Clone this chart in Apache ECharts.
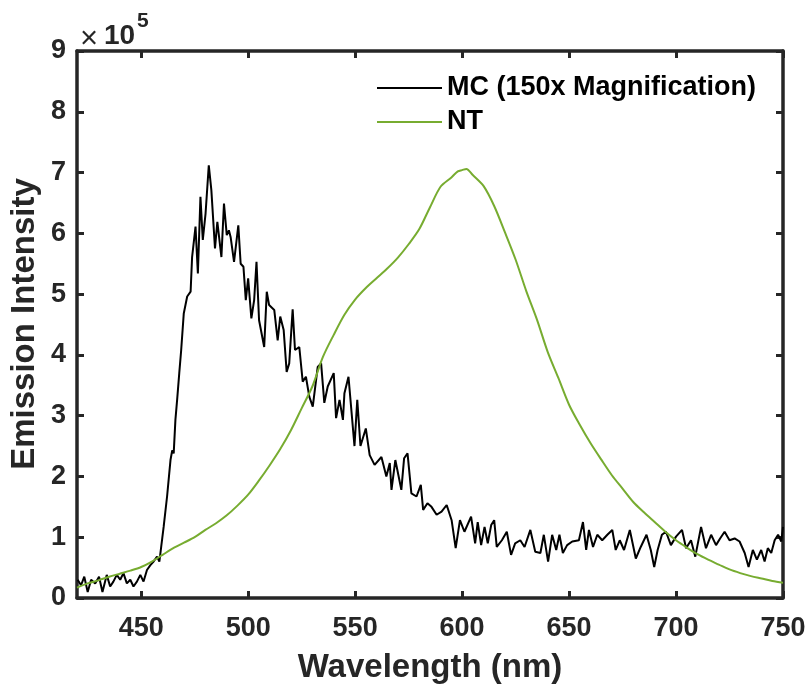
<!DOCTYPE html>
<html>
<head>
<meta charset="utf-8">
<script src="https://cdn.jsdelivr.net/npm/echarts@6/dist/echarts.min.js"></script>
<style>
html,body{margin:0;padding:0;background:#fff;}
#chart{width:812px;height:684px;}
</style>
</head>
<body>
<div id="chart"></div>
<script>
// Emission intensity values are in units of 1e5
const mcWavelength = [420.3,421.9,423.4,425.0,426.6,428.5,430.3,431.9,433.9,435.5,437.0,438.6,440.2,441.7,443.3,444.9,446.4,448.0,449.6,451.1,452.7,454.3,455.8,457.4,458.5,460.5,462.1,463.7,464.5,465.2,466.0,466.8,467.8,468.7,469.9,471.5,473.1,473.8,475.4,476.5,477.7,478.8,480.1,481.6,482.8,483.7,484.5,485.6,486.3,487.5,488.7,490.0,491.0,491.8,493.4,495.4,496.5,497.8,498.9,500.0,501.5,502.8,503.9,505.1,505.9,507.5,508.7,509.8,512.2,513.8,515.0,516.6,518.0,519.2,520.8,521.9,523.9,525.5,527.0,528.6,530.2,532.5,534.1,535.6,537.2,540.0,541.1,542.7,544.3,545.0,546.9,549.7,551.0,552.5,555.0,556.8,559.1,562.3,564.6,566.2,567.0,568.8,571.6,572.9,574.5,576.3,578.7,580.7,581.8,583.8,585.7,588.1,590.4,592.8,595.1,597.0,599.0,601.1,604.2,606.1,607.3,608.9,610.5,612.0,613.6,615.0,616.2,618.6,620.9,622.9,624.8,627.2,629.2,631.9,634.2,636.6,638.2,640.2,642.1,644.0,645.5,647.1,649.1,651.5,654.6,656.5,658.0,659.3,661.2,663.2,665.5,667.9,670.2,671.8,673.7,675.7,678.4,681.2,683.5,686.2,688.2,689.8,691.4,693.4,695.3,697.6,700.0,702.8,704.7,707.0,709.0,711.7,714.0,716.4,718.7,720.6,722.7,725.0,727.4,729.7,732.1,733.9,735.9,737.8,739.8,741.4,742.9,744.5,746.1,747.7,749.2,750.0];
const mcIntensity = [0.30,0.21,0.35,0.10,0.30,0.24,0.35,0.10,0.38,0.19,0.27,0.38,0.30,0.41,0.24,0.30,0.19,0.27,0.38,0.27,0.46,0.54,0.60,0.68,0.60,1.17,1.67,2.27,2.43,2.38,2.93,3.26,3.70,4.08,4.68,4.96,5.04,5.61,6.11,5.34,6.60,5.89,6.33,7.12,6.71,6.71,5.75,6.19,6.16,5.61,6.49,5.97,6.05,5.94,5.53,6.13,5.50,5.45,4.90,5.26,4.60,4.90,5.53,4.57,4.54,4.13,5.04,4.82,4.74,4.24,4.63,4.41,3.72,3.86,4.75,4.08,4.13,3.56,3.64,3.31,3.15,3.80,3.86,3.21,3.48,3.70,2.96,3.26,2.93,3.37,3.64,2.50,3.26,2.50,2.79,2.35,2.19,2.32,2.00,2.22,1.78,2.27,1.78,2.30,2.38,1.72,1.67,1.86,1.45,1.56,1.50,1.37,1.42,1.53,1.28,0.82,1.28,1.09,1.34,0.90,1.25,0.87,1.17,0.90,1.20,1.28,0.84,0.95,1.09,0.71,0.90,0.95,0.84,1.12,0.76,0.74,1.04,0.60,1.04,0.79,1.04,0.74,0.87,0.93,0.95,1.25,0.79,1.12,0.84,1.04,0.95,1.04,1.12,0.79,0.95,0.79,1.12,0.65,0.84,1.04,0.79,0.51,0.79,1.04,1.09,0.87,1.01,1.12,0.82,0.95,0.68,1.17,0.82,1.04,0.87,0.98,1.09,0.95,0.98,0.93,0.74,0.51,0.79,0.63,0.79,0.60,0.82,0.74,0.95,1.04,0.93,1.17];

const ntWavelength = [420,425,430,435,440,445,450,455,460,465,470,475,480,485,490,495,500,505,510,515,520,525,530,535,540,545,550,555,560,565,570,575,580,585,590,595,598,600,602,605,610,615,620,625,630,635,640,645,650,655,660,665,670,675,680,685,690,695,700,705,710,715,720,725,730,735,740,745,750];
const ntIntensity = [0.17,0.24,0.29,0.35,0.40,0.45,0.51,0.60,0.71,0.82,0.91,1.00,1.12,1.23,1.36,1.52,1.70,1.93,2.18,2.45,2.76,3.12,3.48,3.97,4.33,4.66,4.91,5.10,5.26,5.42,5.60,5.82,6.07,6.43,6.77,6.92,7.02,7.04,7.06,6.96,6.78,6.45,6.02,5.57,5.05,4.58,4.05,3.62,3.18,2.85,2.55,2.28,2.02,1.80,1.58,1.41,1.25,1.09,0.95,0.83,0.72,0.63,0.55,0.47,0.41,0.36,0.32,0.28,0.25];

const xTicks = [450,500,550,600,650,700,750];
const yTicks = [0,1,2,3,4,5,6,7,8,9];
const seriesNames = ['MC (150x Magnification)','NT'];
const xTitle = 'Wavelength (nm)';
const yTitle = 'Emission Intensity';

const axisColor = '#262626';
const fontFam = '"Liberation Sans", Arial, sans-serif';

const chart = echarts.init(document.getElementById('chart'), null, {renderer:'canvas'});

function xAxisDef(pos, showLabel){
  return {
    type:'value', position:pos, min:420, max:750,
    axisLine:{show:true, onZero:false, lineStyle:{color:axisColor, width:3.5}},
    axisTick:{show:true, inside:true, length:7, customValues:xTicks, lineStyle:{color:axisColor, width:3}},
    axisLabel:{show:showLabel, customValues:xTicks, margin:17, fontFamily:fontFam, fontWeight:'bold', fontSize:27, color:axisColor},
    splitLine:{show:false}
  };
}
function yAxisDef(pos, showLabel){
  return {
    type:'value', position:pos, min:0, max:9, interval:1,
    axisLine:{show:true, onZero:false, lineStyle:{color:axisColor, width:3.5}},
    axisTick:{show:true, inside:true, length:7, lineStyle:{color:axisColor, width:3}},
    axisLabel:{show:showLabel, margin:11, padding:[6,0,0,0], fontFamily:fontFam, fontWeight:'bold', fontSize:27, color:axisColor,
      formatter:function(v){ return yTicks.indexOf(v) >= 0 ? String(v) : ''; }},
    splitLine:{show:false}
  };
}

const option = {
  backgroundColor:'#ffffff',
  animation:false,
  grid:{left:77, right:29, top:51, bottom:86, containLabel:false},
  xAxis:[xAxisDef('bottom', true), xAxisDef('top', false)],
  yAxis:[yAxisDef('left', true), yAxisDef('right', false)],
  legend:{
    orient:'vertical', left:372, top:69, itemWidth:65, itemHeight:2, itemGap:6, icon:'rect',
    data:seriesNames,
    textStyle:{fontFamily:fontFam, fontWeight:'bold', fontSize:27, color:'#000', lineHeight:28}
  },
  graphic:[
    {type:'text', left:80, top:24, style:{text:'×', font:'normal 31px ' + fontFam, fill:axisColor}},
    {type:'text', left:104, top:22, style:{text:'10', font:'bold 28px ' + fontFam, fill:axisColor}},
    {type:'text', left:137, top:11, style:{text:'5', font:'bold 21px ' + fontFam, fill:axisColor}},
    {type:'text', x:430, y:668, style:{text:xTitle, font:'bold 33px ' + fontFam, fill:axisColor, textAlign:'center', textVerticalAlign:'middle'}},
    {type:'text', x:25, y:324, rotation:Math.PI/2, style:{text:yTitle, font:'bold 33px ' + fontFam, fill:axisColor, textAlign:'center', textVerticalAlign:'middle'}}
  ],
  series:[
    {
      name:seriesNames[0], type:'line', xAxisIndex:0, yAxisIndex:0, symbol:'none',
      lineStyle:{color:'#000000', width:2}, itemStyle:{color:'#000000'},
      data: mcWavelength.map((w,i)=>[w, mcIntensity[i]])
    },
    {
      name:seriesNames[1], type:'line', xAxisIndex:0, yAxisIndex:0, symbol:'none', smooth:0.3,
      lineStyle:{color:'#77AC30', width:2}, itemStyle:{color:'#77AC30'},
      data: ntWavelength.map((w,i)=>[w, ntIntensity[i]])
    }
  ]
};
chart.setOption(option);
</script>
</body>
</html>
